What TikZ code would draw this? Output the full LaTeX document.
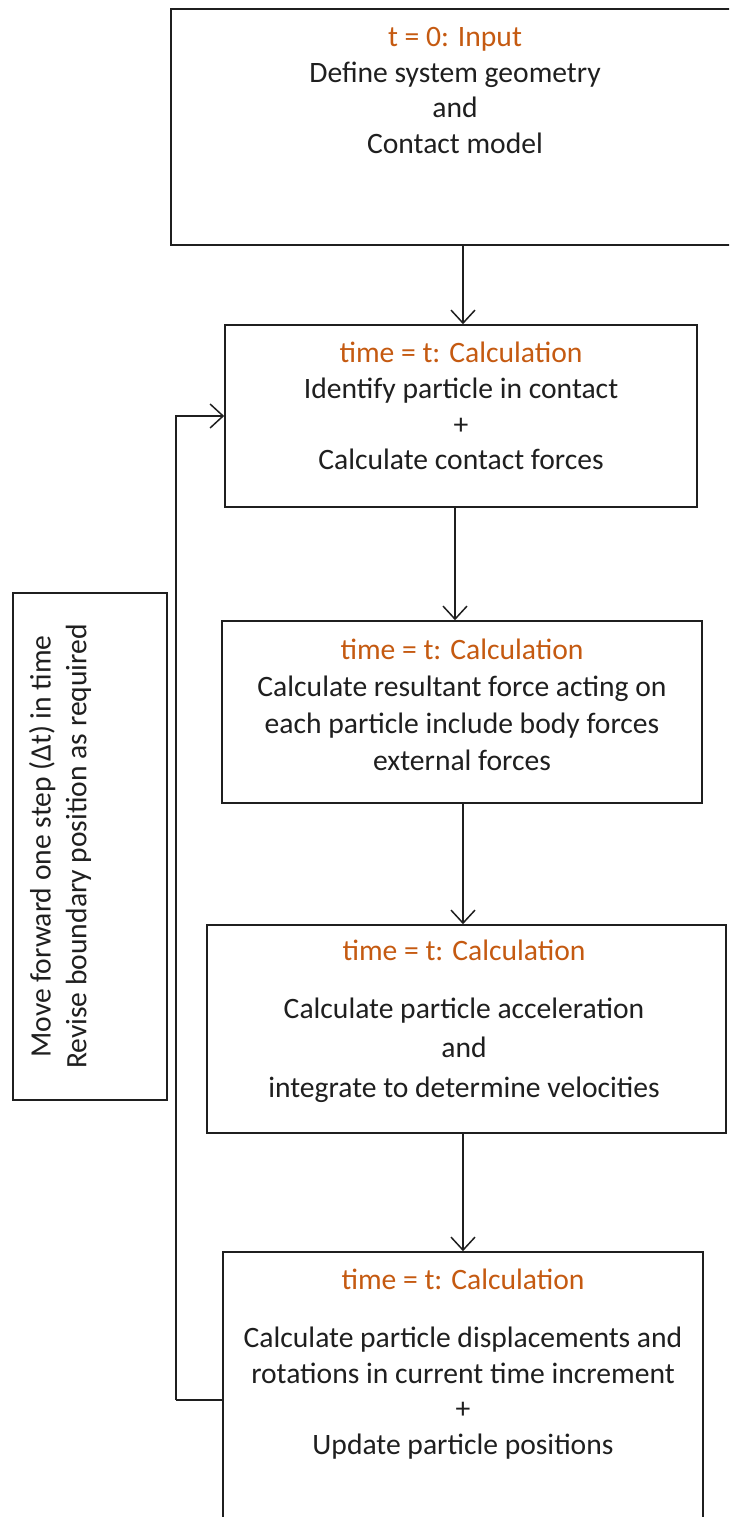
\documentclass[tikz,border=0pt]{standalone}
\usepackage{fontspec}
\setmainfont{Carlito}
\usetikzlibrary{arrows.meta}
\definecolor{ttl}{HTML}{C55A11}
\definecolor{ink}{HTML}{1F1F1F}
\tikzset{
  box/.style={draw=ink, line width=1.6pt, rectangle, inner sep=0pt},
  txt/.style={align=center, inner sep=0pt, anchor=north, text=ink,
    font=\fontsize{29.6}{35.7}\selectfont},
  arr/.style={draw=ink, line width=1.5pt, -{Straight Barb[length=13pt,width=24pt,line width=1.5pt]}},
  ln/.style={draw=ink, line width=1.5pt}
}
\newcommand{\ttlc}[1]{\textcolor{ttl}{#1}}
\begin{document}
\begin{tikzpicture}[x=1pt,y=-1pt]
\useasboundingbox (0,0) rectangle (729,1517);
\clip (0,0) rectangle (729,1517);
\fill[white] (0,0) rectangle (729,1517);
% boxes
\node[box, minimum width=564pt, minimum height=236pt] (b1) at (453,127) {};
\node[box, minimum width=472pt, minimum height=182pt] (b2) at (461,416) {};
\node[box, minimum width=480pt, minimum height=182pt] (b3) at (462,712) {};
\node[box, minimum width=519pt, minimum height=208pt] (b4) at (466.5,1029) {};
\node[box, minimum width=480pt, minimum height=296pt] (b5) at (463,1400) {};
\node[box, minimum width=154pt, minimum height=507pt] (lb) at (90,846.5) {};
% texts
\node[txt] (t1) at (455,27) {\ttlc{t = 0: Input}\\Define system geometry\\and\\Contact model};
\node[txt] (t2) at (461,342) {\ttlc{time = t: Calculation}\\Identify particle in contact\\+\\Calculate contact forces};
\node[txt, font=\fontsize{29.6}{37}\selectfont] (t3) at (462,639) {\ttlc{time = t: Calculation}\\Calculate resultant force acting on\\each particle include body forces\\external forces};
\node[txt, font=\fontsize{29.6}{39.5}\selectfont] (t4) at (464,940) {\ttlc{time = t: Calculation}\\[18pt]Calculate particle acceleration\\and\\integrate to determine velocities};
\node[txt] (t5) at (463,1269) {\ttlc{time = t: Calculation}\\[22pt]Calculate particle displacements and\\rotations in current time increment\\+\\Update particle positions};
\node[txt, anchor=center, rotate=90] (tl) at ([xshift=-30pt]lb.center) {Move forward one step (Δt) in time\\Revise boundary position as required};
% connectors
\draw[arr] ([xshift=2pt]b2.north |- b1.south) -- ([xshift=2pt]b2.north);
\draw[arr] ([xshift=-7pt]b3.north |- b2.south) -- ([xshift=-7pt]b3.north);
\draw[arr] ([xshift=-3.5pt]b4.north |- b3.south) -- ([xshift=-3.5pt]b4.north);
\draw[arr] (b5.north |- b4.south) -- (b5.north);
\coordinate (fb) at ([xshift=-46pt]b5.west);
\draw[ln] (b5.west) -- (fb);
\draw[arr] (fb) |- (b2.west);
\end{tikzpicture}
\end{document}
